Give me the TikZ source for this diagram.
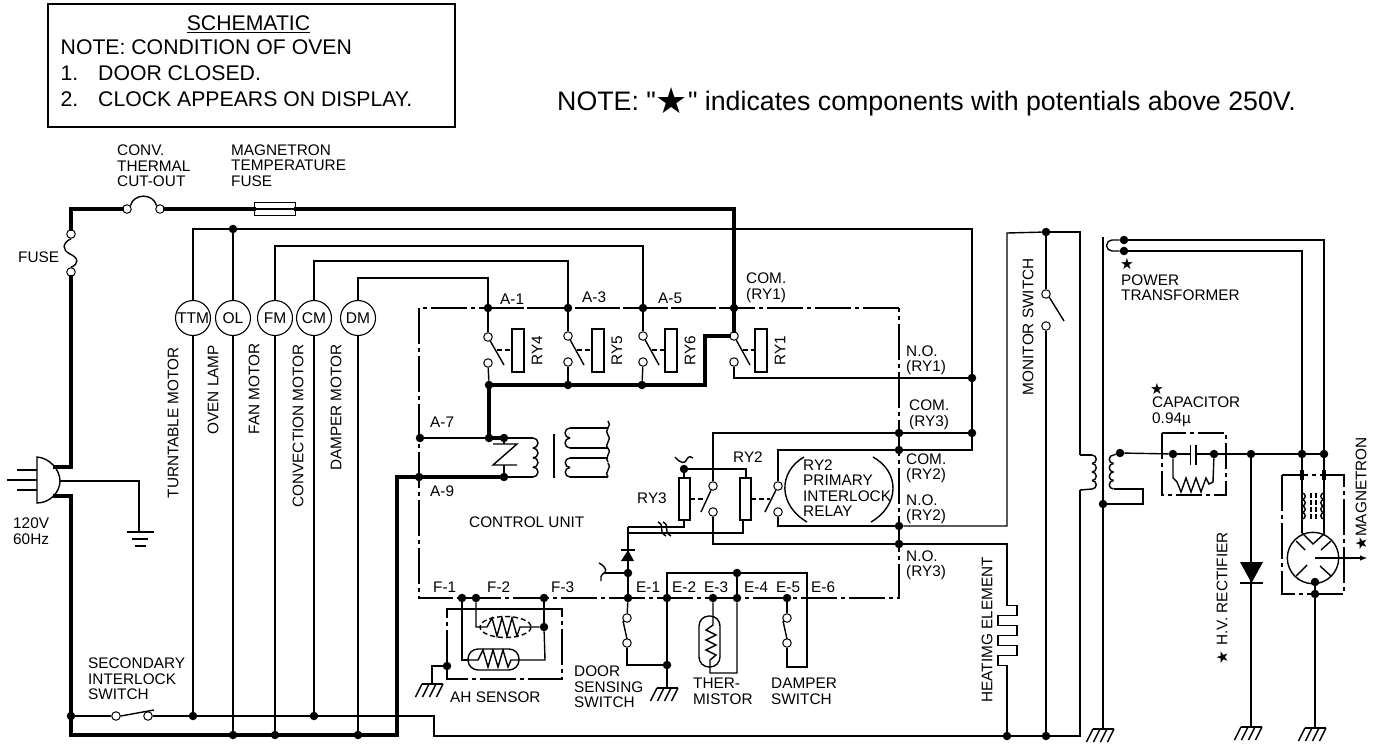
\documentclass[tikz,border=0pt]{standalone}
\usepackage{fontspec}
\setmainfont{Liberation Sans}
\newfontfamily\notefont{Liberation Sans}
\newfontfamily\symfont{DejaVu Sans}
\newcommand{\starmark}{{\symfont ★}}
\newcommand{\lblsize}{\fontsize{15.4}{15.6}\selectfont}
\newcommand{\boxsize}{\fontsize{21.3}{24}\selectfont}
\tikzset{
	wire/.style={line width=1.4bp, line join=miter},
	thickwire/.style={line width=4bp, line join=miter, line cap=rect},
	unitline/.style={line width=1.4bp, dash pattern=on 36bp off 4bp on 4bp off 4bp},
	linkline/.style={line width=1.4bp, dash pattern=on 5bp off 3bp},
	dot/.style={circle, fill=black, inner sep=0pt, minimum size=8.5bp},
	term/.style={circle, draw, fill=white, line width=1bp, inner sep=0pt, minimum size=8.5bp},
	motor/.style={circle, draw, line width=1.1bp, inner sep=0pt, minimum size=35bp, font=\fontsize{15.6}{16}\selectfont},
	lbl/.style={anchor=west, align=left, inner sep=0pt, font=\lblsize},
	vlbl/.style={anchor=east, rotate=90, inner sep=0pt, font=\lblsize},
	boxlbl/.style={anchor=base west, inner sep=0pt, font=\boxsize},
}
\newcommand{\gndsym}[2]{% hatched ground, (#1,#2) is the top of the stem
	\draw[wire] (#1-10,#2) -- (#1+11,#2);
	\foreach \dx in {-10,-3,4,11} \draw[wire] (#1+\dx,#2) -- (#1+\dx-6.5,#2+13);
}
\newcommand{\squig}[2]{\draw[wire, shift={(#1,#2)}] (0,-7) .. controls (5,-3) and (-5,3) .. (0,7);}
\begin{document}
\begin{tikzpicture}[x=1bp, y=-1bp]
	\useasboundingbox (0,0) rectangle (1382,745);
	% junctions
	\foreach \nm/\x/\y in {olT/233/229, A1/488/308, A3/568/308, A5/643/308, comA/734/308,
		relD/489/385, relE/568/385, relF/642/385, A7/420/438, cnA/489/438, cnB/504/438, A9/419/477, cnC/504/477,
		noA/972/378, comCr/972/433, comC/899/433, comB/899/450, noB/899/526, noC/899/544, ryS/684/469,
		dioD/628/573, E1/628/598, F1/462/598, F2/476/598, F3/544/598, E2/667/598, E3/713/598, E4/737/598, E5/787/598,
		eT/737/573, doorG/667/665, ahG/447/666, ahR/544/627,
		secL/71/716, secT/193/716, secC/314/716, olB/233/735, fmB/275/735, dmB/358/735,
		heatB/1007/736, monB/1046/736, monT/1046/232, coreD/1103/504, filA/1124/240, filB/1124/251,
		hvS/1120/453, capL/1173/454, capR/1214/454, recT/1251/454, magA/1302/454, magB/1324/454,
		magC/1315/582, magG/1315/594}
		\node[dot] (\nm) at (\x,\y) {};
	% open contacts
	\foreach \nm/\x/\y in {fuA/71/234, fuB/71/272, cutA/127/209, cutB/160/209, sA/116/716, sB/148/716,
		rDa/488/337, rDb/488/363, rEa/568/336, rEb/568/362, rFa/643/336, rFb/643/362, rAa/734/336, rAb/734/362,
		rCa/713/486, rCb/713/512, rBa/778/486, rBb/778/512,
		doorA/627/618, doorB/627/643, dampA/787/618, dampB/787/643, monA/1046/294, monC/1046/326}
		\node[term] (\nm) at (\x,\y) {};
	% motors
	\foreach \nm/\x in {TTM/193, OL/233, FM/275, CM/314, DM/358}
		\node[motor] (\nm) at (\x,318) {\nm};
	% line side, heavy
	\node[draw, line width=1bp, minimum width=41bp, minimum height=13bp, inner sep=0pt] (magFuse) at (274.5,209) {};
	\draw[wire] (magFuse.west) -- (magFuse.east);
	\coordinate (hotC) at (705,336);
	\coordinate (hotD) at (705,385);
	\draw[thickwire] (fuA) |- (cutA);
	\draw[thickwire] (cutB) -- (magFuse.west);
	\draw[thickwire] (magFuse.east) -| (comA) -- (rAa);
	\draw[thickwire] (rAa) -- (hotC) -- (hotD) -- (relD);
	\draw[thickwire] (relD) -- (cnA) -- (cnB);
	\draw[thickwire] (fuB) -- (71,467) -- (55,467);
	\draw[thickwire] (55,496) -- (71,496) -- (71,735) -- (397,735) -- (397,477) -- (cnC);
	\draw[wire] (fuA.south) .. controls (62,243) and (62,250) .. (70,254) .. controls (79,258) and (79,264) .. (fuB.north);
	\draw[wire] (cutA.north east) .. controls (134,193) and (153,193) .. (cutB.north west);
	% plug
	\draw[wire] (37,457) .. controls (50,458) and (60,470) .. (60,481) .. controls (60,492) and (50,503) .. (37,503) -- cycle;
	\draw[wire] (17,470) -- (37,470);
	\draw[wire] (7,480) -- (37,480);
	\draw[wire] (17,490) -- (37,490);
	\draw[wire] (60,481) -| (139,532);
	\draw[wire] (127,532) -- (154,532);
	\draw[wire] (132,539) -- (148,539);
	\draw[wire] (135,546) -- (146,546);
	% motor feeds
	\draw[wire] (secT) -- (TTM);
	\draw[wire] (TTM) |- (olT);
	\draw[wire] (olT) -- (OL);
	\draw[wire] (OL) -- (olB);
	\draw[wire] (FM) -- (fmB);
	\draw[wire] (CM) -- (secC);
	\draw[wire] (DM) -- (dmB);
	\draw[wire] (FM) |- (643,246) -- (A5);
	\draw[wire] (CM) |- (568,261) -- (A3);
	\draw[wire] (DM) |- (488,278) -- (A1);
	\draw[wire] (olT) -| (noA);
	\draw[wire] (noA) -- (comCr);
	\draw[wire] (comCr) -- (972,450) -- (comB);
	\draw[wire] (comB) -- (778,450) -- (rBa);
	\draw[wire] (comCr) -- (comC) -- (713,433) -- (rCa);
	\draw[wire] (rAb) |- (noA);
	% secondary interlock line
	\draw[wire] (secL) -- (sA);
	\draw[wire] (sB) -- (secT) -- (secC) -- (434,716) -- (434,736) -- (heatB) -- (monB) -- (1080,736) -- (1080,490);
	\draw[wire] (sA.east) -- (154,710);
	% control unit frame
	\draw[unitline] (899,308) -- (A1.center) -- (419,308) -- (419,598) -- (899,598) -- cycle;
	\draw[unitline] (A1.center) -- (comA.center);
	% relays
	\foreach \ca/\cb/\dn/\x/\rx/\nm in {rDa/rDb/relD/488/512/RY4, rEa/rEb/relE/568/592/RY5, rFa/rFb/relF/643/665/RY6, rAa/rAb/rAb/734/755/RY1} {
		\draw[wire] (\ca) -- (\x+16,365);
		\draw[linkline] (\x+9,350) -- (\rx,350);
		\draw[wire] (\rx,329) rectangle (\rx+12,372);
		\node[vlbl, anchor=center] (lbl\nm) at (\rx+25,351) {\nm};
		\draw[wire] (\cb) -- (\dn);
	}
	\draw[wire] (A1) -- (rDa);
	\draw[wire] (A3) -- (rEa);
	\draw[wire] (A5) -- (rFa);
	% control transformer
	\draw[wire] (A7) -- (cnA);
	\draw[wire] (cnB) -- (533,438);
	\draw[wire] (cnC) -- (533,477);
	\foreach \y in {438,448,457.5,467} \draw[wire] (533,\y) arc[start angle=-90, end angle=90, radius=5];
	\draw[wire] (cnB) -- (504,444);
	\draw[wire] (493,444) -- (517,444) -- (493,465) -- (517,465);
	\draw[wire] (504,465) -- (cnC);
	\draw[wire] (554,434) -- (554,478);
	\draw[wire] (608,428) -- (570,428);
	\draw[wire] (570,448) -- (608,448);
	\draw[wire] (608,458) -- (570,458);
	\draw[wire] (570,477) -- (608,477);
	\foreach \y in {428,438} \draw[wire] (570,\y) arc[start angle=-90, end angle=-270, radius=5];
	\foreach \y in {458,467.5} \draw[wire] (570,\y) arc[start angle=-90, end angle=-270, radius=4.75];
	\squig{608}{428}
	\squig{608}{442}
	\squig{608}{455}
	\squig{608}{470}
	% RY2, RY3
	\draw[wire] (ryS) -- (684,478);
	\draw[wire] (ryS) -| (746,478);
	\draw[wire] (679,478) rectangle (690,520);
	\draw[wire] (740,478) rectangle (751,520);
	\draw[linkline] (690,499) -- (703,499);
	\draw[linkline] (751,499) -- (770,499);
	\draw[wire] (rCa) -- (701,512);
	\draw[wire] (rBa) -- (765,512);
	\draw[wire] (rCb) |- (noC);
	\draw[wire] (noC) -| (1007,605.7) -- (1017,605.7) -- (1017,615.7) -- (998,615.7) -- (998,625.7) -- (1017,625.7) -- (1017,635.7) -- (998,635.7) -- (998,645.7) -- (1017,645.7) -- (1017,655.7) -- (998,655.7) -- (998,665.7) -- (1007,665.7) -- (heatB);
	\draw[wire] (rBb) |- (noB);
	\draw[wire] (noB) -| (1007,233) -- (monT);
	\draw[wire] (monT) -- (1080,232) -- (1080,455);
	\draw[wire] (monT) -- (monA);
	\draw[wire] (monC) -- (monB);
	\draw[wire] (monA.south east) -- (1064,321);
	\draw[wire] (804,457) .. controls (778,472) and (778,505) .. (807,522);
	\draw[wire] (873,457) .. controls (900,472) and (900,505) .. (871,522);
	\draw[wire] (675,457) .. controls (681,464) and (685,464) .. (687,459) .. controls (689,456) and (691,456) .. (693,458);
	% trigger lines and diode
	\draw[wire] (684,520) |- (628,527);
	\draw[wire] (743,520) |- (628,533);
	\draw[wire] (628,527) -- (dioD);
	\draw[wire] (dioD) -- (E1);
	\fill (621,561) -- (634,561) -- (628,550) -- cycle;
	\draw[wire] (621,550) -- (635,550);
	\draw[wire] (dioD) -- (604,573);
	\draw[wire] (599,563) .. controls (608,568) and (606,572) .. (604,573) .. controls (601,575) and (600,578) .. (601,581);
	\foreach \x in {658,663} \draw[wire] (\x,522) .. controls (\x+8,526) and (\x-1,531) .. (\x+8,536);
	% door and thermistor side
	\draw[wire] (E1) -- (doorA);
	\draw[wire] (623,621) -- (627,639);
	\draw[wire] (doorB) |- (doorG);
	\draw[wire] (E2) -- (doorG);
	\draw[wire] (doorG) -- (667,688);
	\draw[wire] (E2) -- (667,573) -- (eT);
	\draw[wire] (eT) -- (E4);
	\draw[wire] (eT) -- (807,573) -- (807,667) -- (787,667) -- (dampB);
	\draw[wire] (E5) -- (dampA);
	\draw[wire] (783,621) -- (787,639);
	\draw[wire] (E3) -- (713,625) -- (706,630) -- (716,635) -- (706,640) -- (716,645) -- (706,650) -- (716,655) -- (710,660) -- (710,673) -- (737,673) -- (E4);
	\draw[wire, rounded corners=10bp] (699,616) rectangle (720,667);
	% AH sensor
	\draw[unitline] (447,666) -- (447,609) -- (562,609) -- (562,679) -- (447,679) -- (ahG);
	\draw[wire] (F1) -- (462,609) -- (F3 |- 0,609);
	\draw[wire] (F1) |- (468,660);
	\draw[wire] (F3) -- (ahR);
	\draw[wire] (ahR) -- (545,660) -- (519,660) -- (511,660) -- (508,667) -- (503,650) -- (498,667) -- (493,650) -- (488,667) -- (483,650) -- (478,660) -- (468,660);
	\draw[wire, rounded corners=10bp] (468,649) rectangle (519,670);
	\draw[wire] (F2) |- (487,627) -- (492,618) -- (497,636) -- (502,618) -- (507,636) -- (512,618) -- (517,636) -- (520,627) -- (ahR);
	\draw[linkline] (505.5,627) ellipse [x radius=25.5, y radius=10.5];
	\draw[wire] (ahG) -| (432,684);
	\gndsym{432}{684}
	\gndsym{667}{688}
	% high voltage side
	\draw[wire] (1103,237) -- (coreD);
	\draw[wire] (coreD) -- (1103,729);
	\gndsym{1103}{729}
	\foreach \y in {455,463.5,472,480.5} \draw[wire] (1092,\y) arc[start angle=-90, end angle=90, radius=4.25];
	\draw[wire] (1080,455) -- (1092,455);
	\draw[wire] (1080,490) -- (1092,489);
	\foreach \y in {455,463.5,472,480.5} \draw[wire] (1113.5,\y) arc[start angle=-90, end angle=-270, radius=4.25];
	\draw[wire] (1113.5,455) -- (hvS);
	\draw[wire] (1113.5,489) -- (1143,489) -- (1143,504) -- (coreD);
	\draw[wire] (hvS) -- (capL);
	\draw[wire] (capL) -- (1190.5,454);
	\draw[wire] (1190.5,445) -- (1190.5,465);
	\draw[wire] (1196,445) -- (1196,465);
	\draw[wire] (1196,454) -- (capR);
	\draw[wire] (capR) -- (recT) -- (magA) -- (magB);
	\draw[wire] (capL) -- (1173,478) -- (1177,482) -- (1181,492) -- (1186,478) -- (1191,492) -- (1196,478) -- (1201,492) -- (1206,478) -- (1209,484) -- (1213,482) -- (capR);
	\draw[unitline, dash pattern=on 26bp off 4bp on 4bp off 4bp] (1162,433) rectangle (1226,495);
	\draw[wire] (filA) -| (magB);
	\draw[wire] (filB) -| (magA);
	\draw[wire] (filA) -- (1112,240) arc[start angle=-90, end angle=-270, radius=5.5] -- (filB);
	% rectifier
	\draw[wire] (recT) -- (1251,727);
	\fill (1240,562) -- (1263,562) -- (1251.5,583) -- cycle;
	\draw[wire] (1240,583) -- (1263,583);
	\gndsym{1251}{727}
	% magnetron
	\draw[unitline] (1282,475) -- (1282,594) -- (1344,594) -- (1344,475) -- cycle;
	\draw[wire] (magA) -- (1302,533);
	\draw[wire] (magB) -- (1324,533);
	\foreach \x in {1300.5,1303.5,1322.5,1325.5} \draw[wire] (\x,470) -- (\x,480);
	\foreach \y in {493,499.5,506,512.5} {
		\draw[wire] (1302,\y) arc[start angle=-90, end angle=90, radius=3.25];
		\draw[wire] (1324,\y) arc[start angle=-90, end angle=-270, radius=3.25];
	}
	\draw[wire, dash pattern=on 5bp off 2bp] (1311,493) -- (1311,519);
	\draw[wire, dash pattern=on 5bp off 2bp] (1316,493) -- (1316,519);
	\draw[wire] (1313,558) circle [radius=25.7];
	\draw[wire] (1302,533) -- (1313,544) -- (1325,533);
	\draw[wire] (1296,541) -- (1305,550);
	\draw[wire] (1331,541) -- (1321,550);
	\draw[wire] (1296,576) -- (1307,565);
	\draw[wire] (1331,576) -- (1320,566);
	\draw [wire, arrows={-latex}] (1315,558) -- (1367,558);
	\draw[wire] (magC) -- (magG);
	\draw[wire] (magG) -- (1315,728);
	\gndsym{1315}{728}
	% box and heading
	\draw[wire] (48,4) rectangle (455,127);
	\node[anchor=base, inner sep=0pt, font=\boxsize] (boxTitle) at (248.5,30.7) {\underline{SCHEMATIC}};
	\node[boxlbl] (boxA) at (60.5,55) {NOTE: CONDITION OF OVEN};
	\node[boxlbl] (boxB) at (60.5,80) {1.};
	\node[boxlbl] (boxC) at (98,80) {DOOR CLOSED.};
	\node[boxlbl] (boxD) at (60.5,106) {2.};
	\node[boxlbl] (boxE) at (98,106) {CLOCK APPEARS ON DISPLAY.};
	\node[anchor=base west, inner sep=0pt, font={\notefont\fontsize{26.85}{28}\selectfont}] (noteTop) at (557,110) {NOTE: "\raisebox{-3bp}{\symfont\fontsize{36}{36}\selectfont ★}" indicates components with potentials above 250V.};
	% labels
	\node[lbl] (lCut) at (117,166) {CONV.\\THERMAL\\CUT-OUT};
	\node[lbl] (lMagF) at (231,165.5) {MAGNETRON\\TEMPERATURE\\FUSE};
	\node[lbl] (lFuse) at (18,257) {FUSE};
	\node[lbl] (lPlug) at (13,531) {120V\\60Hz};
	\node[lbl] (lSec) at (88,679) {SECONDARY\\INTERLOCK\\SWITCH};
	\node[vlbl] (lTTM) at (173,347) {TURNTABLE MOTOR};
	\node[vlbl] (lOL) at (213,345) {OVEN LAMP};
	\node[vlbl] (lFM) at (254,343) {FAN MOTOR};
	\node[vlbl] (lCM) at (298,344) {CONVECTION MOTOR};
	\node[vlbl] (lDM) at (336,344) {DAMPER MOTOR};
	\foreach \nm/\x/\y/\t in {tA/500/299/A-1, tB/582/297/A-3, tC/658/298/A-5, tD/430/422/A-7, tE/430/491/A-9,
		tF/433/587/F-1, tG/487/587/F-2, tH/551/587/F-3, tI/636/587/E-1, tJ/672/587/E-2, tK/704/587/E-3,
		tL/744/587/E-4, tM/776/587/E-5, tN/811/587/E-6, tO/733/457/RY2, tP/637/498/RY3}
		\node[lbl] (\nm) at (\x,\y) {\t};
	\node[lbl] (lCom) at (746,287.5) {COM.\\(RY1)};
	\node[lbl] (lNoA) at (906,360) {N.O.\\(RY1)};
	\node[lbl] (lComC) at (909,414.5) {COM.\\(RY3)};
	\node[lbl] (lComB) at (906,468) {COM.\\(RY2)};
	\node[lbl] (lNoB) at (906,509) {N.O.\\(RY2)};
	\node[lbl] (lNoC) at (906,565) {N.O.\\(RY3)};
	\node[lbl] (lUnit) at (469,522) {CONTROL UNIT};
	\node[lbl] (lRel) at (803,488) {RY2\\PRIMARY\\INTERLOCK\\RELAY};
	\node[lbl] (lAH) at (450,697) {AH SENSOR};
	\node[lbl] (lDoor) at (574,687) {DOOR\\SENSING\\SWITCH};
	\node[lbl] (lTher) at (693,691.5) {THER-\\MISTOR};
	\node[lbl] (lDamp) at (771,691.5) {DAMPER\\SWITCH};
	\node[vlbl] (lHeat) at (987,557) {HEATIMG ELEMENT};
	\node[vlbl] (lMon) at (1028,258) {MONITOR SWITCH};
	\node[lbl] (sPow) at (1120,264) {\starmark};
	\node[lbl] (lPow) at (1121,287.5) {POWER\\TRANSFORMER};
	\node[lbl] (sCap) at (1150,388.5) {\starmark};
	\node[lbl] (lCap) at (1152,412) {CAPACITOR\\0.94µ};
	\node[vlbl] (lRec) at (1222,532) {H.V. RECTIFIER};
	\node[vlbl, anchor=center] (sRec) at (1222,658) {\starmark};
	\node[vlbl] (lMag) at (1361,437) {MAGNETRON};
	\node[vlbl, anchor=center] (sMag) at (1361,544) {\starmark};
\end{tikzpicture}
\end{document}
